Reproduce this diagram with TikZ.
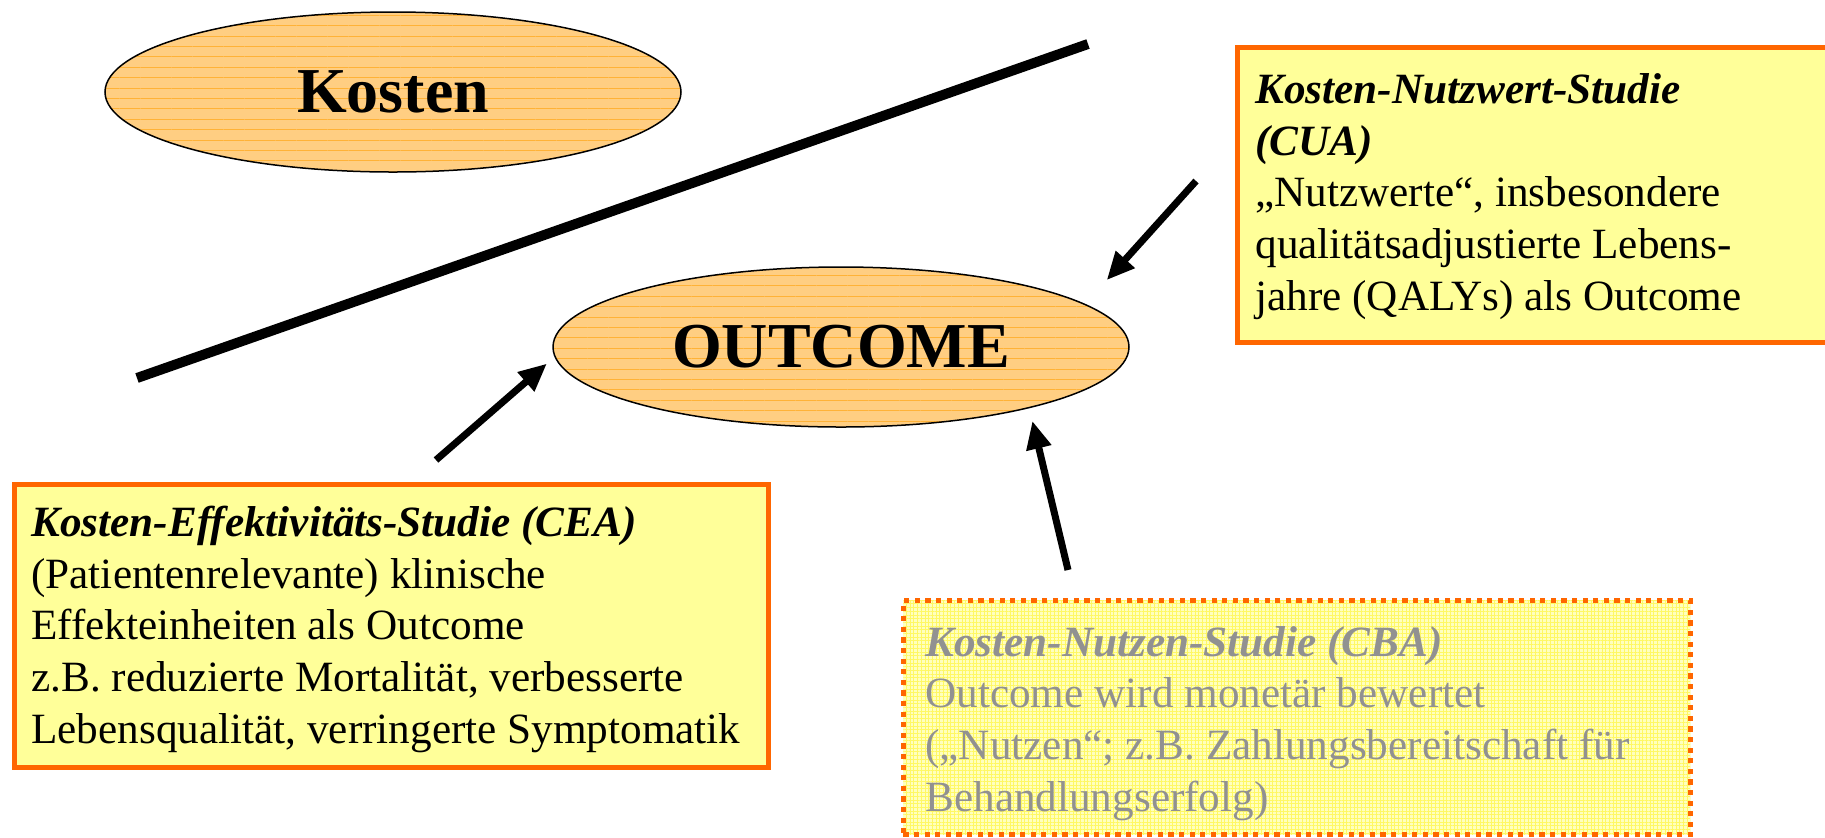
\documentclass[tikz,border=0pt]{standalone}
\usepackage{fontspec}
\setmainfont{Liberation Serif}
\usetikzlibrary{shapes.geometric,arrows.meta,patterns.meta}
\definecolor{ellfill}{RGB}{255,206,130}
\definecolor{ellstripe}{RGB}{255,178,55}
\definecolor{boxfill}{RGB}{255,255,153}
\definecolor{boxline}{RGB}{255,102,0}
\definecolor{cbafill}{RGB}{255,255,190}
\definecolor{cbagrid}{RGB}{255,248,100}
\definecolor{cbatext}{RGB}{145,145,145}
\begin{document}
\begin{tikzpicture}[x=0.5pt,y=-0.5pt,
  ell/.style={ellipse, draw=black, line width=0.75pt, inner sep=0pt,
    preaction={fill=ellfill},
    pattern={Lines[angle=0,distance=5.2pt,line width=0.5pt]}, pattern color=ellstripe,
    minimum width=288pt, minimum height=80pt,
    font=\fontsize{32}{38}\selectfont\bfseries},
  boxstyle/.style={draw=boxline, line width=2.5pt, fill=boxfill, inner sep=0pt, anchor=north west},
  cbastyle/.style={draw=boxline, line width=2.5pt, dash pattern=on 2.6pt off 2.7pt,
    preaction={fill=cbafill},
    pattern={Hatch[angle=0,distance=1.85pt,line width=0.45pt]}, pattern color=cbagrid,
    inner sep=0pt, anchor=north west},
  txt/.style={anchor=base west, align=left, inner sep=0pt, font=\fontsize{21.6}{25.8}\selectfont},
  arr/.style={-{Triangle[length=14pt,width=12pt]}, line width=3.5pt, black},
  bar/.style={line width=5pt, black}
]
\useasboundingbox (0,0) rectangle (1825,837);

% ellipses
\node[ell] (kosten) at (393,92) {Kosten};
\node[ell] (outcome) at (841,347) {OUTCOME};

% separating bar
\draw[bar] (137,378) -- (1088,44);

% boxes
\node[boxstyle, minimum width=377pt, minimum height=141.5pt] (cea) at (12,482) {};
\node[boxstyle, minimum width=301pt, minimum height=147.5pt] (cua) at (1235,45) {};
\node[cbastyle, minimum width=393.5pt, minimum height=117pt] (cba) at (903,600.5) {};

% texts (anchored at the baseline of their last line)
\node[txt] (ceatxt) at (31,743) {\textbf{\textit{Kosten-Effektivitäts-Studie (CEA)}}\\(Patientenrelevante) klinische\\Effekteinheiten als Outcome\\z.B. reduzierte Mortalität, verbesserte\\Lebensqualität, verringerte Symptomatik};
\node[txt] (cuatxt) at (1255,310) {\textbf{\textit{Kosten-Nutzwert-Studie}}\\\textbf{\textit{(CUA)}}\\„Nutzwerte“, insbesondere\\qualitätsadjustierte Lebens-\\jahre (QALYs) als Outcome};
\node[txt, text=cbatext] (cbatxt) at (925,811) {\textbf{\textit{Kosten-Nutzen-Studie (CBA)}}\\Outcome wird monetär bewertet\\(„Nutzen“; z.B. Zahlungsbereitschaft für\\Behandlungserfolg)};

% arrows
\coordinate (s1) at (436,460);
\coordinate (s2) at (1196,181);
\coordinate (s3) at (1068,570);
\draw[arr, shorten >=5pt] (s1) -- (outcome.182);
\draw[arr, shorten >=16pt] (s2) -- (outcome.10.6);
\draw[arr, shorten >=6.5pt] (s3) -- (outcome.-18.6);
\end{tikzpicture}
\end{document}
